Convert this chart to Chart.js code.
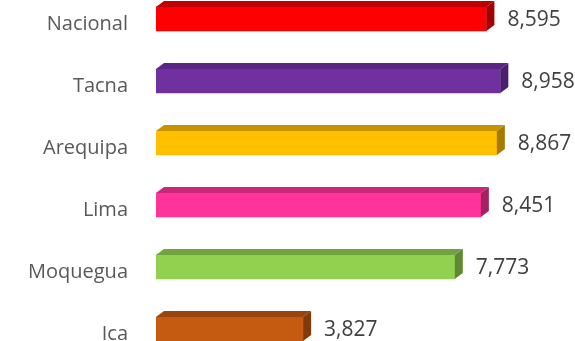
<!DOCTYPE html>
<html>
<head>
<meta charset="utf-8">
<script src="https://cdn.jsdelivr.net/npm/chart.js@4"></script>
<style>
  html, body { margin: 0; padding: 0; background: #ffffff; overflow: hidden; }
  #wrap { position: absolute; left: 0; top: -12px; width: 575px; height: 372px; }
</style>
</head>
<body>
<div id="wrap"><canvas id="c" width="575" height="372"></canvas></div>
<script>
const categories = ["Nacional", "Tacna", "Arequipa", "Lima", "Moquegua", "Ica"];
const values = [8595, 8958, 8867, 8451, 7773, 3827];
const frontColors = ["#FF0000", "#7030A0", "#FFC000", "#FF3399", "#92D050", "#C55A11"];
const topColors   = ["#C00000", "#5B2683", "#C59400", "#C9287A", "#70A23D", "#9A450D"];
const sideColors  = ["#A00000", "#4C1F6E", "#A67C00", "#A8205F", "#5E8832", "#803A0B"];

const DX = 8, DY = 6;

const bar3d = {
  id: 'bar3d',
  afterDatasetsDraw(chart) {
    const ctx = chart.ctx;
    const meta = chart.getDatasetMeta(0);
    meta.data.forEach((bar, i) => {
      const p = bar.getProps(['x', 'y', 'base', 'height'], true);
      const top = p.y - p.height / 2, bottom = p.y + p.height / 2;
      const left = p.base, right = p.x;
      ctx.save();
      ctx.fillStyle = topColors[i];
      ctx.beginPath();
      ctx.moveTo(left, top);
      ctx.lineTo(left + DX, top - DY);
      ctx.lineTo(right + DX, top - DY);
      ctx.lineTo(right, top);
      ctx.closePath();
      ctx.fill();
      ctx.fillStyle = sideColors[i];
      ctx.beginPath();
      ctx.moveTo(right, top);
      ctx.lineTo(right + DX, top - DY);
      ctx.lineTo(right + DX, bottom - DY);
      ctx.lineTo(right, bottom);
      ctx.closePath();
      ctx.fill();
      ctx.fillStyle = '#404040';
      ctx.font = '21px "Open Sans"';
      ctx.textAlign = 'left';
      ctx.textBaseline = 'middle';
      ctx.fillText(values[i].toLocaleString('en-US'), right + 21, p.y + 1);
      ctx.restore();
    });
  }
};

new Chart(document.getElementById('c'), {
  type: 'bar',
  data: {
    labels: categories,
    datasets: [{
      data: values,
      backgroundColor: frontColors,
      borderWidth: 0,
      barThickness: 24
    }]
  },
  options: {
    indexAxis: 'y',
    responsive: false,
    animation: false,
    layout: { padding: 0 },
    plugins: { legend: { display: false }, tooltip: { enabled: false } },
    scales: {
      x: { display: false, min: 0, max: 10900 },
      y: {
        grid: { display: false, drawTicks: false },
        border: { display: false },
        ticks: { color: '#595959', font: { family: 'Open Sans', size: 20 }, padding: 28, labelOffset: 5 },
        afterFit(scale) { scale.width = 156; scale.paddingTop = 0; scale.paddingBottom = 0; }
      }
    }
  },
  plugins: [bar3d]
});
</script>
</body>
</html>
